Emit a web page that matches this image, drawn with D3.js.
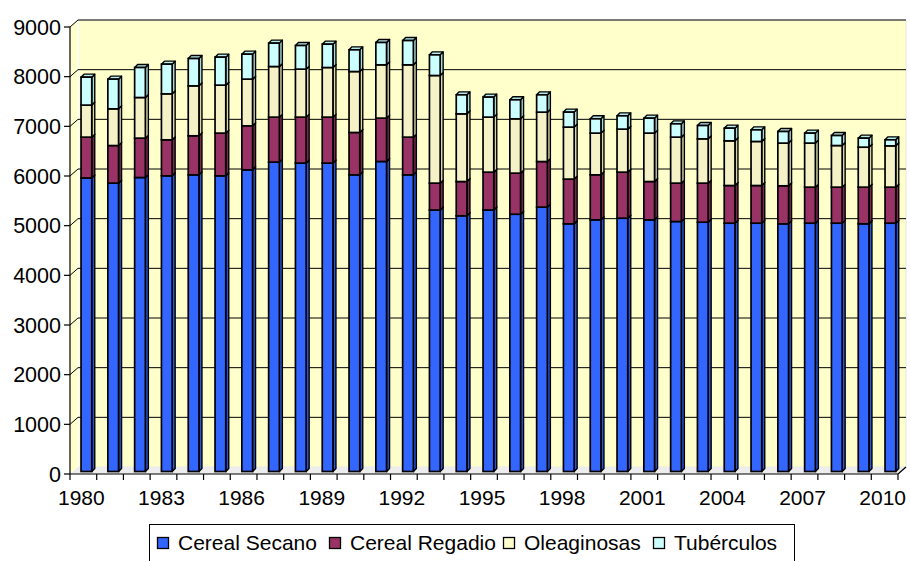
<!DOCTYPE html>
<html><head><meta charset="utf-8">
<script src="https://cdn.jsdelivr.net/npm/d3@7"></script>
<style>
body{margin:0;background:#fff;}
svg{display:block;font-family:"Liberation Sans",Arial,sans-serif;}
</style></head>
<body>
<svg id="chart" width="910" height="561"></svg>
<script>
const years = d3.range(1980, 2011).map(String);
const secano = [5910,5806,5919,5953,5973,5953,6074,6229,6209,6209,5973,6242,5973,5265,5148,5265,5180,5323,4987,5067,5100,5067,5033,5020,5000,5000,4987,5000,5000,4987,5000];
const regadio = [822,757,793,725,786,860,886,906,926,926,853,873,759,541,690,762,827,918,900,906,927,771,773,786,758,758,765,725,725,738,725];
const oleaginosas = [645,739,818,926,1006,966,940,1019,966,999,1227,1073,1456,2167,1363,1108,1094,994,1047,840,866,975,926,892,900,887,860,887,838,805,832];
const tuberculos = [563,598,604,598,550,564,503,471,476,470,437,450,489,416,383,403,383,349,302,288,268,301,268,268,255,234,234,201,202,182,121];
const seriesNames = ["Cereal Secano","Cereal Regadio","Oleaginosas","Tubérculos"];
const yTicks = [0,1000,2000,3000,4000,5000,6000,7000,8000,9000];
const xLabels = ["1980","1983","1986","1989","1992","1995","1998","2001","2004","2007","2010"];

const colors = ["#3366FF","#993366","#F4F2C6","#CCFFFF"];
const topColors = ["#3A6AF0","#8E305E","#EDEBC0","#B8EEEE"];
const sideColors = ["#2A55D8","#7A2A52","#D8D6AA","#A8DADA"];
const legendColors = ["#3366FF","#993366","#FFFFCC","#CCFFFF"];

const svg = d3.select("#chart");
const dx = 8, dy = 7;
const axL = 70, axR = 898, axB = 474;

const xAxis = d3.scaleBand().domain(years).range([axL, axR]);
const xBar = d3.scaleBand().domain(years).range([73, 903.8]).paddingInner(0.6).paddingOuter(0.3);
const yAxis = d3.scaleLinear().domain([0, 9000]).range([axB, 27]);
const yBar = d3.scaleLinear().domain([0, 9000]).range([471.5, 24.5]);
const yBack = d3.scaleLinear().domain([0, 9000]).range([axB - dy, 27 - dy]);

svg.append("rect").attr("x", axL + dx).attr("y", 20).attr("width", 906 - axL - dx).attr("height", axB - dy - 20)
  .attr("fill", "#FFFFCC").attr("stroke", "#E6E6E6").attr("stroke-width", 1);
svg.append("path").attr("d", `M${axL},${yAxis(9000)}L${axL+dx},${yBack(9000)}L${axL+dx},${axB-dy}L${axL},${axB}Z`)
  .attr("fill", "#FFFFCC");
svg.append("path").attr("d", `M${axL},${axB}L${axL+dx},${axB-dy}L${906},${axB-dy}L${axR},${axB}Z`)
  .attr("fill", "#EDEDED");
svg.append("line").attr("x1", axL+dx).attr("x2", axL+dx).attr("y1", 20).attr("y2", axB-dy).attr("stroke","#FFFFFF").attr("stroke-width",1.5);

const grid = svg.append("g");
yTicks.filter(v => v > 0).forEach(v => {
  grid.append("line").attr("x1", axL + dx).attr("x2", 906).attr("y1", yBack(v)).attr("y2", yBack(v))
    .attr("stroke", "#000").attr("stroke-width", 1);
  grid.append("line").attr("x1", axL).attr("x2", axL + dx).attr("y1", yAxis(v)).attr("y2", yBack(v))
    .attr("stroke", "#000").attr("stroke-width", 1);
});

const stackData = years.map((y, i) => ({year: y, v: [secano[i], regadio[i], oleaginosas[i], tuberculos[i]]}));
const stack = d3.stack().keys([0,1,2,3]).value((d, k) => d.v[k]);
const layers = stack(stackData);
const bd = 3, bdy = 3;
const barsG = svg.append("g");
stackData.forEach((d, i) => {
  const g = barsG.append("g");
  const x0 = xBar(d.year), x1 = x0 + xBar.bandwidth();
  layers.forEach((layer, k) => {
    const yb = yBar(layer[i][0]), yt = yBar(layer[i][1]);
    g.append("path").attr("d", `M${x1},${yb}L${x1+bd},${yb-bdy}L${x1+bd},${yt-bdy}L${x1},${yt}Z`)
      .attr("fill", sideColors[k]).attr("stroke", "#000").attr("stroke-width", 1.4).attr("stroke-linejoin","round");
    g.append("path").attr("d", `M${x0},${yt}L${x0+bd},${yt-bdy}L${x1+bd},${yt-bdy}L${x1},${yt}Z`)
      .attr("fill", topColors[k]).attr("stroke", "#000").attr("stroke-width", 1.4).attr("stroke-linejoin","round");
    g.append("rect").attr("x", x0).attr("y", yt).attr("width", x1 - x0).attr("height", yb - yt)
      .attr("fill", colors[k]).attr("stroke", "#000").attr("stroke-width", 1.7);
  });
});

const axG = svg.append("g").attr("stroke", "#000").attr("stroke-width", 1.2);
axG.append("line").attr("x1", axL).attr("x2", axL).attr("y1", yAxis(9000)).attr("y2", axB);
axG.append("line").attr("x1", axL).attr("x2", axR).attr("y1", axB).attr("y2", axB);
axG.append("line").attr("x1", axR).attr("x2", axR + dx).attr("y1", axB).attr("y2", axB - dy);
yTicks.forEach(v => {
  axG.append("line").attr("x1", axL - 6).attr("x2", axL).attr("y1", yAxis(v)).attr("y2", yAxis(v));
});
years.forEach(y => {
  axG.append("line").attr("x1", xAxis(y)).attr("x2", xAxis(y)).attr("y1", axB).attr("y2", axB + 6);
});
axG.append("line").attr("x1", axR).attr("x2", axR).attr("y1", axB).attr("y2", axB + 6);

svg.append("g").selectAll("text").data(yTicks).join("text")
  .attr("x", 61).attr("y", d => yAxis(d)).attr("dy", "0.36em").attr("text-anchor", "end")
  .attr("font-size", 21.5).attr("fill", "#000").text(d => d);
svg.append("g").selectAll("text").data(xLabels).join("text")
  .attr("x", d => xAxis(d) + xAxis.bandwidth() / 2 - 2).attr("y", 505).attr("text-anchor", "middle")
  .attr("font-size", 21).attr("fill", "#000").text(d => d);

const lg = svg.append("g");
lg.append("rect").attr("x", 149.5).attr("y", 524.5).attr("width", 645).attr("height", 45)
  .attr("fill", "#fff").attr("stroke", "#000").attr("stroke-width", 1);
const legX = [157, 329, 503, 653];
seriesNames.forEach((n, k) => {
  lg.append("rect").attr("x", legX[k] + 0.5).attr("y", 537.5).attr("width", 11).attr("height", 11)
    .attr("fill", legendColors[k]).attr("stroke", "#000").attr("stroke-width", 1.3);
  lg.append("text").attr("x", legX[k] + 21).attr("y", 550).attr("font-size", 21).attr("fill", "#000").text(n);
});
</script>
</body></html>
